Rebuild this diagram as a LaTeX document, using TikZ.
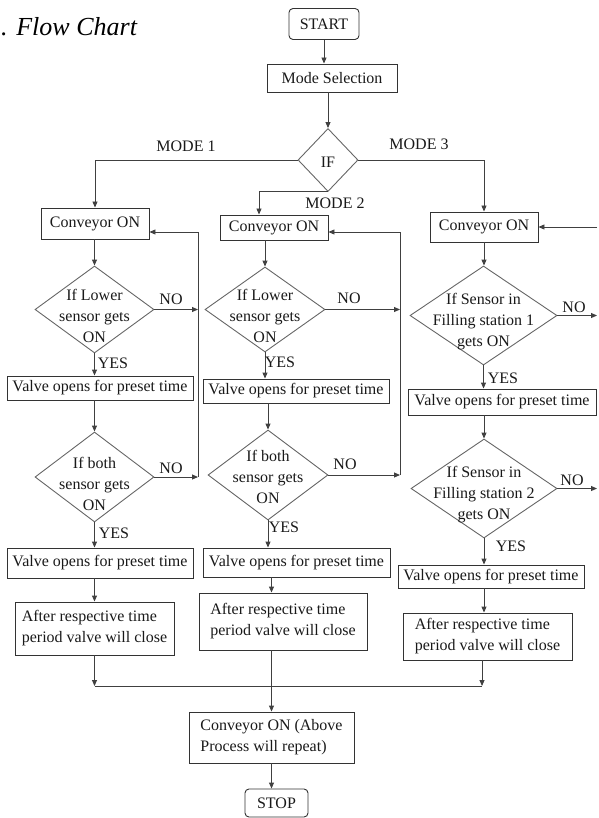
\documentclass[tikz,border=0pt]{standalone}
\usepackage{fontspec}
\setmainfont{Liberation Serif}
\usetikzlibrary{shapes.geometric,arrows.meta,calc}
\begin{document}
\begin{tikzpicture}[x=1pt,y=-1pt,
  font=\fontsize{16}{21}\selectfont,
  bx/.style={draw=black!80, line width=0.9pt, inner sep=0pt, align=center, text=black!90},
  rbx/.style={bx, rounded corners=4pt},
  dia/.style={draw=black!60, line width=0.9pt, diamond, inner sep=0pt},
  dtx/.style={align=center, inner sep=0pt, text=black!90},
  ln/.style={draw=black!75, line width=0.9pt},
  arr/.style={ln, -{Triangle[length=6pt,width=5pt]}},
  lbl/.style={inner sep=0pt, text=black!90}]
\useasboundingbox (0,0) rectangle (598,818);

\node[anchor=base west, inner sep=0pt, font=\fontsize{26}{30}\selectfont\itshape] (title) at (1,36) {. Flow Chart};

\node[rbx, minimum width=70, minimum height=31] (start) at (324,24) {START};
\node[bx, minimum width=130, minimum height=28] (mode) at (332,78) {Mode Selection};
\node[dia, minimum width=60, minimum height=63] (if) at (328,160) {};
\node[dtx] (iftx) at (328,162) {IF};

\node[bx, minimum width=108, minimum height=31] (c1) at (95,223.5) {Conveyor ON};
\node[bx, minimum width=108, minimum height=25] (c2) at (274,227.5) {Conveyor ON};
\node[bx, minimum width=108, minimum height=30] (c3) at (484,227) {Conveyor ON};

\node[dia, minimum width=119, minimum height=87] (d1a) at (94.5,309.5) {};
\node[dtx] (t1a) at (94.5,316) {If Lower\\sensor gets\\ON};
\node[dia, minimum width=119, minimum height=90] (d1b) at (94.5,477) {};
\node[dtx] (t1b) at (94.5,484) {If both\\sensor gets\\ON};
\node[dia, minimum width=120, minimum height=85] (d2a) at (265,309.5) {};
\node[dtx] (t2a) at (265,316) {If Lower\\sensor gets\\ON};
\node[dia, minimum width=120, minimum height=90] (d2b) at (268,475) {};
\node[dtx] (t2b) at (268,477) {If both\\sensor gets\\ON};
\node[dia, minimum width=147, minimum height=99] (d3a) at (483.5,315.5) {};
\node[dtx] (t3a) at (483.5,322) {If Sensor in\\Filling station 1\\gets ON};
\node[dia, minimum width=146, minimum height=99] (d3b) at (484,488.5) {};
\node[dtx] (t3b) at (484,495) {If Sensor in\\Filling station 2\\gets ON};

\node[bx, minimum width=186, minimum height=24] (v1a) at (100,388) {Valve opens for preset time};
\node[bx, minimum width=186, minimum height=30] (v1b) at (100,563) {Valve opens for preset time};
\node[bx, minimum width=186, minimum height=24] (v2a) at (296,391) {Valve opens for preset time};
\node[bx, minimum width=187, minimum height=29] (v2b) at (296.5,562.5) {Valve opens for preset time};
\node[bx, minimum width=188, minimum height=26] (v3a) at (502,402) {Valve opens for preset time};
\node[bx, minimum width=186, minimum height=23] (v3b) at (491,576.5) {Valve opens for preset time};

\node[bx, align=left, minimum width=159, minimum height=53] (a1) at (94.5,628.5) {After respective time\\period valve will  close};
\node[bx, align=left, minimum width=168, minimum height=57] (a2) at (283,621.5) {After respective time\\period valve will  close};
\node[bx, align=left, minimum width=169, minimum height=47] (a3) at (487.5,636.5) {After respective time\\period valve will  close};

\node[bx, align=left, minimum width=165, minimum height=51] (final) at (271.5,737.5) {Conveyor ON (Above\\Process will  repeat)};
\node[rbx, minimum width=63, minimum height=28] (stop) at (276.5,803) {STOP};

\coordinate (r1) at (198,232);
\coordinate (r2) at (400,232);
\coordinate (r3) at (597,227);
\coordinate (j1) at (94.5,686);
\coordinate (j3) at (482,686);

% main flow
\draw[arr] (start.south) -- (start.south |- mode.north);
\draw[arr] (if.north |- mode.south) -- (if.north);
\draw[arr] (if.west) -| (c1.north);
\draw[arr] (if.south) -| ([xshift=-15]c2.north);
\draw[arr] (if.east) -| (c3.north);

% column 1
\draw[arr] (d1a.north |- c1.south) -- (d1a.north);
\draw[arr] (d1a.south) -- (d1a.south |- v1a.north);
\draw[arr] (d1b.north |- v1a.south) -- (d1b.north);
\draw[arr] (d1b.south) -- (d1b.south |- v1b.north);
\draw[arr] (a1.north |- v1b.south) -- (a1.north);
\draw[arr] (a1.south) -- (j1);
\draw[arr] (d1a.east) -- (d1a.east -| r1);
\draw[arr] (d1b.east) -- (d1b.east -| r1);
\draw[arr] (d1b.east -| r1) -- (r1) -- (r1 -| c1.east);

% column 2
\draw[arr] (d2a.north |- c2.south) -- (d2a.north);
\draw[arr] (d2a.south) -- (d2a.south |- v2a.north);
\draw[arr] (d2b.north |- v2a.south) -- (d2b.north);
\draw[arr] (d2b.south) -- (d2b.south |- v2b.north);
\draw[arr] (final.north |- v2b.south) -- (final.north |- a2.north);
\draw[arr] (final.north |- a2.south) -- (final.north);
\draw[arr] (d2a.east) -- (d2a.east -| r2);
\draw[arr] (d2b.east) -- (d2b.east -| r2);
\draw[arr] (d2b.east -| r2) -- (r2) -- (r2 -| c2.east);

% column 3
\draw[arr] (c3.south) -- (c3.south |- d3a.north);
\draw[arr] (d3a.south) -- (d3a.south |- v3a.north);
\draw[arr] (d3b.north |- v3a.south) -- (d3b.north);
\draw[arr] (d3b.south) -- (d3b.south |- v3b.north);
\draw[arr] (d3b.south |- v3b.south) -- (d3b.south |- a3.north);
\draw[arr] ([xshift=-5.5]a3.south) -- (j3);
\draw[arr] (r3) -- (r3 -| c3.east);
\draw[arr] (d3a.east) -- (d3a.east -| r3);
\draw[arr] (d3b.east) -- (d3b.east -| r3);

% merge and end
\draw[ln] (j1) -- (j3);
\draw[arr] (final.south) -- (final.south |- stop.north);

% labels
\node[lbl] (m1) at (186,146) {MODE 1};
\node[lbl] (m3) at (419,144) {MODE 3};
\node[lbl] (m2) at (335,203) {MODE 2};
\node[lbl] (no1a) at (171,299) {NO};
\node[lbl] (no1b) at (171,468) {NO};
\node[lbl] (no2a) at (349,298) {NO};
\node[lbl] (no2b) at (345,464) {NO};
\node[lbl] (no3a) at (574,307) {NO};
\node[lbl] (no3b) at (572,480) {NO};
\node[lbl] (y1a) at (113,363) {YES};
\node[lbl] (y1b) at (114,533) {YES};
\node[lbl] (y2a) at (280,362) {YES};
\node[lbl] (y2b) at (284,527) {YES};
\node[lbl] (y3a) at (503,378) {YES};
\node[lbl] (y3b) at (511,546) {YES};
\end{tikzpicture}
\end{document}
